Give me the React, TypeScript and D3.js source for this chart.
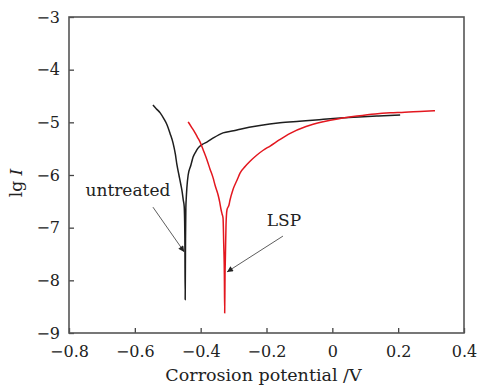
import React, { useEffect, useRef } from 'react';
import * as d3 from 'd3';

// untreated sample: potential (V) and lg I
const untreatedV = [-0.545, -0.535, -0.523, -0.512, -0.502, -0.493, -0.484, -0.477, -0.472, -0.466, -0.460, -0.456, -0.453, -0.450, -0.448, -0.447, -0.446, -0.445, -0.444, -0.442, -0.438, -0.430, -0.423, -0.415, -0.408, -0.395, -0.380, -0.360, -0.332, -0.300, -0.280, -0.220, -0.159, -0.100, -0.040, 0.024, 0.080, 0.140, 0.206];
const untreatedLg = [-4.67, -4.74, -4.82, -4.93, -5.05, -5.21, -5.39, -5.60, -5.81, -6.00, -6.19, -6.33, -6.47, -6.60, -7.20, -8.37, -7.20, -6.62, -6.47, -6.25, -6.00, -5.82, -5.66, -5.56, -5.49, -5.42, -5.37, -5.29, -5.20, -5.16, -5.13, -5.06, -5.01, -4.98, -4.95, -4.92, -4.90, -4.88, -4.86];

// LSP sample
const lspV = [-0.438, -0.428, -0.417, -0.410, -0.402, -0.392, -0.381, -0.372, -0.362, -0.356, -0.347, -0.342, -0.338, -0.335, -0.332, -0.330, -0.328, -0.327, -0.326, -0.325, -0.323, -0.320, -0.314, -0.311, -0.302, -0.289, -0.280, -0.265, -0.250, -0.229, -0.210, -0.189, -0.160, -0.128, -0.080, -0.028, 0.020, 0.075, 0.130, 0.176, 0.220, 0.246, 0.280, 0.312];
const lspLg = [-4.99, -5.09, -5.20, -5.28, -5.37, -5.53, -5.71, -5.88, -6.06, -6.20, -6.38, -6.52, -6.66, -6.74, -6.82, -7.30, -7.90, -8.62, -7.90, -7.60, -6.95, -6.66, -6.57, -6.48, -6.28, -6.09, -5.96, -5.84, -5.74, -5.62, -5.53, -5.45, -5.33, -5.21, -5.08, -4.99, -4.93, -4.88, -4.84, -4.82, -4.81, -4.80, -4.79, -4.78];

const xTicks = [-0.8, -0.6, -0.4, -0.2, 0, 0.2, 0.4];
const xTickLabels = ['\u22120.8', '\u22120.6', '\u22120.4', '\u22120.2', '0', '0.2', '0.4'];
const yTicks = [-3, -4, -5, -6, -7, -8, -9];
const yTickLabels = ['\u22123', '\u22124', '\u22125', '\u22126', '\u22127', '\u22128', '\u22129'];

// annotation: label, label position, arrow start, arrow end (data units)
const labels = ['untreated', 'LSP'];
const labelPos = [[-0.621, -6.40], [-0.147, -6.97]];
const arrowFrom = [[-0.545, -6.61], [-0.150, -7.16]];
const arrowTo = [[-0.450, -7.46], [-0.320, -7.84]];

const width = 481;
const height = 385;
const margin = { top: 17, right: 17, bottom: 52, left: 69 };
const font = '"DejaVu Serif", serif';

export default function App() {
  const ref = useRef<SVGSVGElement>(null);

  useEffect(() => {
    const svg = d3.select(ref.current);
    svg.selectAll('*').remove();

    const x = d3.scaleLinear().domain([-0.8, 0.4]).range([margin.left, width - margin.right]);
    const y = d3.scaleLinear().domain([-9, -3]).range([height - margin.bottom, margin.top]);

    svg.append('rect')
      .attr('width', width).attr('height', height).attr('fill', '#fff');

    // bottom axis, ticks inward
    const xAxis = svg.append('g')
      .attr('transform', `translate(0,${height - margin.bottom})`)
      .call(d3.axisBottom(x).tickValues(xTicks).tickSizeInner(-5).tickSizeOuter(0).tickPadding(13)
        .tickFormat((d, i) => xTickLabels[i]));
    xAxis.select('.domain').remove();
    xAxis.selectAll('line').attr('stroke', '#444').attr('stroke-width', 1.3);
    xAxis.selectAll('text').attr('font-family', font).attr('font-size', 16).attr('fill', '#222');

    const yAxis = svg.append('g')
      .attr('transform', `translate(${margin.left},0)`)
      .call(d3.axisLeft(y).tickValues(yTicks).tickSizeInner(-5).tickSizeOuter(0).tickPadding(9)
        .tickFormat((d, i) => yTickLabels[i]));
    yAxis.select('.domain').remove();
    yAxis.selectAll('line').attr('stroke', '#444').attr('stroke-width', 1.3);
    yAxis.selectAll('text').attr('font-family', font).attr('font-size', 16).attr('fill', '#222');

    // frame
    svg.append('rect')
      .attr('x', margin.left).attr('y', margin.top)
      .attr('width', width - margin.left - margin.right)
      .attr('height', height - margin.top - margin.bottom)
      .attr('fill', 'none').attr('stroke', '#555').attr('stroke-width', 1.6);

    const path = (vs: number[], ls: number[]) =>
      d3.line<number>().x((d, i) => x(vs[i])).y(d => y(d)).curve(d3.curveMonotoneX)(ls);

    svg.append('path')
      .attr('d', path(untreatedV, untreatedLg))
      .attr('fill', 'none').attr('stroke', '#1e1e1e').attr('stroke-width', 1.5)
      .attr('stroke-linejoin', 'round');

    svg.append('path')
      .attr('d', path(lspV, lspLg))
      .attr('fill', 'none').attr('stroke', '#e3171f').attr('stroke-width', 1.5)
      .attr('stroke-linejoin', 'round');

    // arrowhead marker
    svg.append('defs').append('marker')
      .attr('id', 'ah').attr('viewBox', '0 0 10 10')
      .attr('refX', 10).attr('refY', 5)
      .attr('markerWidth', 8).attr('markerHeight', 6)
      .attr('markerUnits', 'userSpaceOnUse')
      .attr('orient', 'auto')
      .append('path').attr('d', 'M0,0L10,5L0,10Z').attr('fill', '#222');

    labels.forEach((t, i) => {
      svg.append('line')
        .attr('x1', x(arrowFrom[i][0])).attr('y1', y(arrowFrom[i][1]))
        .attr('x2', x(arrowTo[i][0])).attr('y2', y(arrowTo[i][1]))
        .attr('stroke', '#333').attr('stroke-width', 0.8)
        .attr('marker-end', 'url(#ah)');
      svg.append('text')
        .attr('x', x(labelPos[i][0])).attr('y', y(labelPos[i][1]))
        .attr('text-anchor', 'middle')
        .attr('font-family', font).attr('font-size', 17).attr('fill', '#222')
        .text(t);
    });

    // axis titles
    svg.append('text')
      .attr('x', 263.5).attr('y', height - 4)
      .attr('text-anchor', 'middle')
      .attr('font-family', font).attr('font-size', 17.5).attr('fill', '#222')
      .text('Corrosion potential /V');

    const yt = svg.append('text')
      .attr('transform', `translate(22,${(margin.top + height - margin.bottom) / 2 + 8}) rotate(-90)`)
      .attr('text-anchor', 'middle')
      .attr('font-family', font).attr('font-size', 17).attr('fill', '#222');
    yt.append('tspan').text('lg ');
    yt.append('tspan').attr('font-style', 'italic').text('I');
  }, []);

  return (
    <svg ref={ref} width={width} height={height}
      style={{ position: 'absolute', left: 0, top: 0, display: 'block' }} />
  );
}
